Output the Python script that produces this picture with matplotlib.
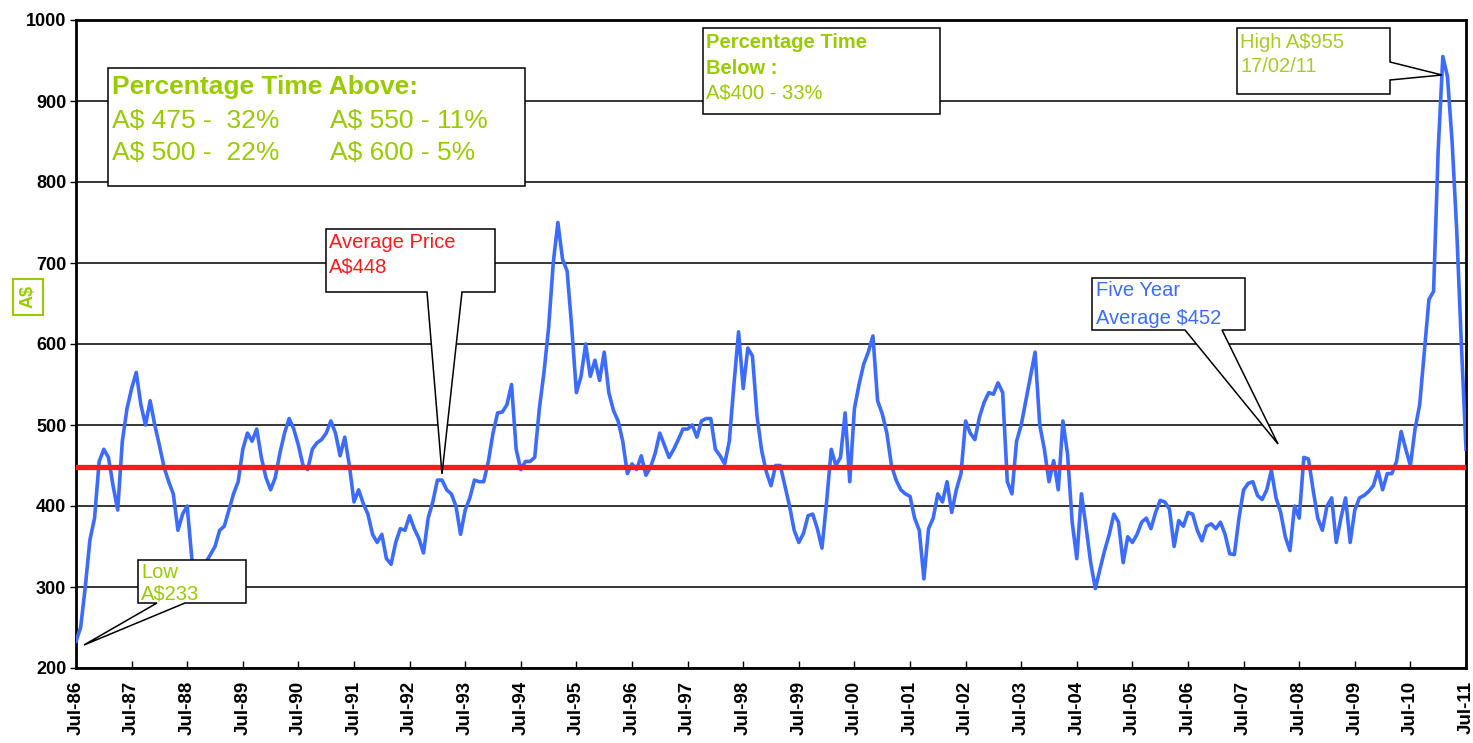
import numpy as np
import matplotlib
matplotlib.use("Agg")
import matplotlib.pyplot as plt
from matplotlib.patches import Polygon

plt.rcParams['font.family'] = ['Liberation Sans', 'DejaVu Sans']

# Aylık fiyat (A$), Jul-86 .. Jul-11
prices = [
    233, 250, 300, 358, 385, 455, 470, 460, 425, 395, 480, 520,   # 86/87
    545, 565, 525, 500, 530, 500, 475, 448, 430, 415, 370, 390,   # 87/88
    400, 335, 320, 320, 330, 340, 350, 370, 375, 395, 415, 430,   # 88/89
    470, 490, 480, 495, 460, 435, 420, 435, 465, 490, 508, 495,   # 89/90
    475, 450, 445, 470, 478, 482, 490, 505, 490, 462, 485, 450,   # 90/91
    405, 420, 403, 390, 365, 355, 365, 335, 328, 355, 372, 370,   # 91/92
    388, 372, 360, 342, 385, 405, 432, 432, 420, 415, 400, 365,   # 92/93
    395, 410, 432, 430, 430, 455, 490, 515, 516, 525, 550, 470,   # 93/94
    445, 455, 455, 460, 520, 565, 620, 700, 750, 705, 690, 620,   # 94/95
    540, 560, 600, 560, 580, 555, 590, 540, 518, 505, 480, 440,   # 95/96
    452, 445, 462, 438, 448, 465, 490, 475, 460, 470, 482, 495,   # 96/97
    495, 500, 485, 505, 508, 508, 470, 462, 452, 480, 550, 615,   # 97/98
    545, 595, 585, 510, 468, 442, 425, 450, 450, 425, 400, 370,   # 98/99
    355, 366, 388, 390, 372, 348, 405, 470, 450, 460, 515, 430,   # 99/00
    520, 550, 575, 590, 610, 530, 514, 490, 450, 432, 420, 415,   # 00/01
    412, 385, 370, 310, 372, 385, 415, 405, 430, 392, 420, 440,   # 01/02
    505, 490, 482, 510, 528, 540, 538, 552, 540, 430, 415, 480,   # 02/03
    500, 530, 560, 590, 500, 470, 430, 456, 420, 505, 464, 380,   # 03/04
    335, 415, 374, 330, 298, 322, 345, 365, 390, 380, 330, 362,   # 04/05
    355, 365, 380, 385, 372, 392, 407, 405, 396, 350, 382, 375,   # 05/06
    392, 390, 370, 357, 375, 378, 372, 380, 365, 341, 340, 385,   # 06/07
    420, 428, 430, 413, 408, 420, 444, 410, 392, 362, 345, 400,   # 07/08
    385, 460, 458, 420, 385, 370, 400, 410, 355, 385, 410, 355,   # 08/09
    395, 410, 413, 418, 425, 444, 420, 440, 440, 455, 492, 470,   # 09/10
    450, 495, 525, 590, 655, 665, 840, 955, 930, 850, 740, 600,   # 10/11
    470,
]
years = ['86', '87', '88', '89', '90', '91', '92', '93', '94', '95', '96', '97', '98',
         '99', '00', '01', '02', '03', '04', '05', '06', '07', '08', '09', '10', '11']
tick_labels = ['Jul-' + y for y in years]
average_price = 448
y_ticks = [200, 300, 400, 500, 600, 700, 800, 900, 1000]

W, H = 1473, 743
GREEN = '#99cc00'
BLUE = '#3b6cff'
RED = '#ff1a1a'

fig = plt.figure(figsize=(W / 100, H / 100), dpi=100)
ax = fig.add_axes([76 / W, 1 - 668 / H, 1390 / W, 648 / H])

x = np.arange(len(prices))
ax.plot(x, prices, color=BLUE, lw=2.6, zorder=3)
ax.axhline(average_price, color=RED, lw=3.8, zorder=4)

ax.set_xlim(0, len(prices) - 1)
ax.set_ylim(200, 1000)
ax.set_yticks(y_ticks)
ax.set_yticklabels([str(v) for v in y_ticks], fontweight='bold', fontsize=13)
ax.set_xticks(np.arange(0, len(prices), 12))
ax.set_xticklabels(tick_labels, rotation=90, fontweight='bold', fontsize=13.5)
ax.tick_params(axis='x', direction='in', length=5, width=1, pad=9)
ax.tick_params(axis='y', direction='out', length=4, width=1, pad=3)
ax.yaxis.grid(True, color='black', lw=1.1, zorder=1)
ax.set_axisbelow(True)
for s in ax.spines.values():
    s.set_linewidth(2)


def ap(px, py):
    # piksel -> eksen oranı
    return ((px - 76) / 1390, (668 - py) / 648)


def callout(x0, y0, x1, y1, side=None, b0=None, b1=None, tip=None):
    if side == 'bottom':
        pts = [(x0, y1), (b0, y1), tip, (b1, y1), (x1, y1), (x1, y0), (x0, y0)]
    elif side == 'right':
        pts = [(x0, y0), (x1, y0), (x1, b0), tip, (x1, b1), (x1, y1), (x0, y1)]
    else:
        pts = [(x0, y0), (x1, y0), (x1, y1), (x0, y1)]
    pts = [ap(*p) for p in pts]
    poly = Polygon(pts, closed=True, facecolor='white', edgecolor='black',
                   lw=1.1, transform=ax.transAxes, zorder=6, clip_on=False)
    ax.add_patch(poly)


def txt(px, py, s, color, size=12, weight='normal'):
    ax.text(*ap(px, py), s, color=color, fontsize=size, fontweight=weight,
            ha='left', va='center', transform=ax.transAxes, zorder=7)


# Percentage Time Above kutusu
callout(108, 68, 525, 186)
txt(112, 87, 'Percentage Time Above:', GREEN, 19, 'bold')
txt(112, 121, 'A$ 475 -  32%', GREEN, 19)
txt(330, 121, 'A$ 550 - 11%', GREEN, 19)
txt(112, 153, 'A$ 500 -  22%', GREEN, 19)
txt(330, 153, 'A$ 600 - 5%', GREEN, 19)

# Percentage Time Below
callout(703, 28, 940, 114)
txt(706, 43, 'Percentage Time', GREEN, 14.5, 'bold')
txt(706, 68, 'Below :', GREEN, 14.5, 'bold')
txt(706, 93, 'A$400 - 33%', GREEN, 14.5)

# High
callout(1237, 28, 1390, 94, side='right', b0=62, b1=80, tip=(1442, 75))
txt(1240, 43, 'High A$955', '#a8cc22', 14.5)
txt(1240, 67, '17/02/11', '#a8cc22', 14.5)

# Five Year Average
callout(1092, 278, 1245, 330, side='bottom', b0=1185, b1=1222, tip=(1278, 444))
txt(1096, 291, 'Five Year', BLUE, 14.5)
txt(1096, 318, 'Average $452', BLUE, 14.5)

# Average Price
callout(326, 229, 495, 292, side='bottom', b0=427, b1=462, tip=(442, 474))
txt(329, 242, 'Average Price', RED, 14.5)
txt(329, 267, 'A$448', RED, 14.5)

# Low
callout(138, 560, 246, 603, side='bottom', b0=157, b1=185, tip=(84, 645))
txt(141, 572, 'Low', GREEN, 14.5)
txt(141, 594, 'A$233', GREEN, 14.5)

# y ekseni etiketi
fig.text(28 / W, 1 - 297 / H, 'A$', rotation=90, color=GREEN, fontsize=13,
         fontweight='bold', ha='center', va='center',
         bbox=dict(boxstyle='square,pad=0.35', facecolor='white', edgecolor=GREEN, lw=1.5))

plt.savefig('out.png', dpi=100)
plt.close()
